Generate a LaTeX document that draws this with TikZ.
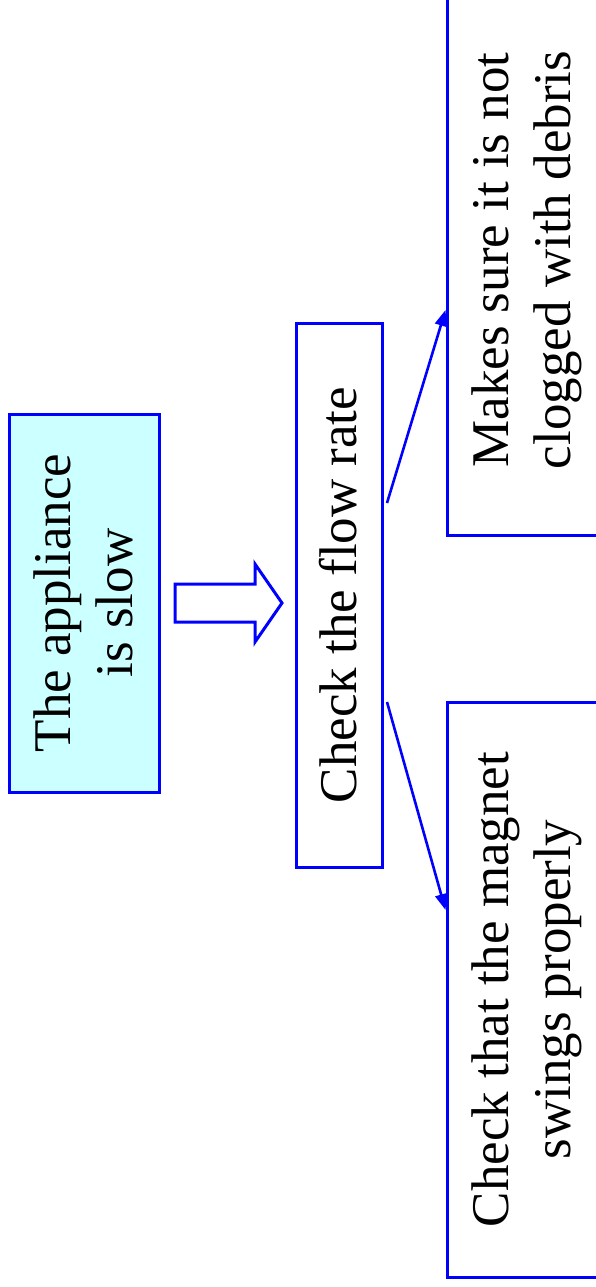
\documentclass[tikz,border=0pt]{standalone}
\usepackage{fontspec}
\setmainfont{Liberation Serif}
\usetikzlibrary{arrows.meta}
\definecolor{boxblue}{RGB}{0,0,255}
\definecolor{lightcyan}{RGB}{204,255,255}
\tikzset{
  stepbox/.style={draw=boxblue, line width=3pt, inner sep=0pt, fill=white,
    font=\fontsize{53}{62}\selectfont},
  conn/.style={draw=boxblue, line width=2.6pt, -{Stealth[length=16pt,width=12pt,inset=0pt]}},
  blockarrow/.style={draw=boxblue, line width=3pt, fill=white, line join=miter},
}
\newcommand{\vtext}[1]{\rotatebox{90}{\raisebox{-5pt}[\height][\depth]{\begin{tabular}{@{}c@{}}#1\end{tabular}}}}
\begin{document}
\begin{tikzpicture}[x=1pt,y=-1pt]
\useasboundingbox (0,0) rectangle (596,1287);
\clip (0,0) rectangle (596,1287);
\node[stepbox, fill=lightcyan, minimum width=150pt, minimum height=378pt] (b1) at (84,603)
  {\vtext{The appliance\\is slow}};
\node[stepbox, minimum width=86pt, minimum height=544pt] (b2) at (339,595)
  {\vtext{Check the flow rate}};
\node[stepbox, minimum width=150pt, minimum height=550pt] (b3) at (522,260)
  {\vtext{Makes sure it is not\\clogged with debris}};
\node[stepbox, minimum width=150pt, minimum height=575pt] (b4) at (522,989.5)
  {\vtext{Check that the magnet\\swings properly}};
% hollow block arrow between b1 and b2
\draw[blockarrow] (175,584) -- (255,584) -- (255,564) -- (282,603) -- (255,642)
  -- (255,622) -- (175,622) -- cycle;
% connectors
\coordinate (s1) at (387,503);
\coordinate (t1) at (447,310);
\coordinate (s2) at (387,702);
\coordinate (t2) at (447,910);
\draw[conn] (s1) -- (b3.west |- t1);
\draw[conn] (s2) -- (b4.west |- t2);
\end{tikzpicture}
\end{document}
